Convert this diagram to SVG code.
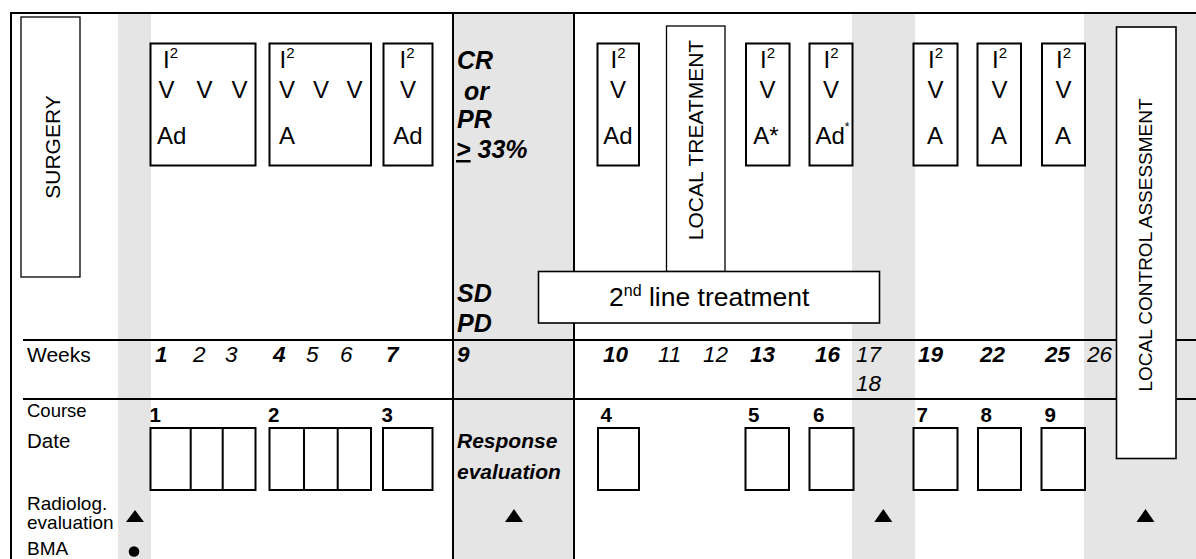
<svg xmlns="http://www.w3.org/2000/svg" width="1196" height="559" viewBox="0 0 1196 559">
<style>
text{font-family:"Liberation Sans",Arial,Helvetica,sans-serif;fill:#000}
.bx{fill:#fff;stroke:#000;stroke-width:2}
.thin{fill:#fff;stroke:#000;stroke-width:1.3}
.med{fill:#fff;stroke:#000;stroke-width:1.6}
.rule{stroke:#000;stroke-width:2;fill:none}
.shade{fill:#e5e5e5}
.c{font-size:24px}
.sup{font-size:15px}
.bi{font-weight:bold;font-style:italic}
.wk{font-size:22.5px;font-style:italic}
.b{font-weight:bold}
.lbl{font-size:19px}
.cn{font-size:20.5px;font-weight:bold}
.mid{text-anchor:middle}
.mark{fill:#000}
</style>
<g id="shading">
<rect class="shade" x="118" y="14" width="33" height="545"/>
<rect class="shade" x="453" y="14" width="121" height="545"/>
<rect class="shade" x="852" y="14" width="63" height="545"/>
<rect class="shade" x="1084" y="14" width="112" height="545"/>
</g>
<g id="connectors">
<path class="rule" d="M10,13H1196 M11,12V559 M453,13V559 M574,13V559 M23,340H1196 M23,399H1196"/>
</g>
<g id="surgery">
<rect class="thin" x="21" y="17" width="59" height="260"/>
<text class="mid" font-size="21" transform="translate(60,147) rotate(-90)">SURGERY</text>
</g>
<g id="course1">
<rect class="bx" x="150.5" y="43.5" width="105" height="122"/>
<text class="c" x="163" y="68">I<tspan class="sup" dy="-10">2</tspan></text>
<text class="c" x="158.5" y="98">V</text><text class="c" x="196.5" y="98">V</text><text class="c" x="231.5" y="98">V</text>
<text class="c" x="157" y="144">Ad</text>
</g>
<g id="course2">
<rect class="bx" x="269.5" y="43.5" width="101.5" height="122"/>
<text class="c" x="279.5" y="68">I<tspan class="sup" dy="-10">2</tspan></text>
<text class="c" x="279" y="98">V</text><text class="c" x="313" y="98">V</text><text class="c" x="346.5" y="98">V</text>
<text class="c" x="279" y="144">A</text>
</g>
<g id="course3">
<rect class="bx" x="383.5" y="43.5" width="49" height="122"/>
<text class="c mid" x="407" y="68">I<tspan class="sup" dy="-10">2</tspan></text>
<text class="c mid" x="408" y="98">V</text>
<text class="c mid" x="408" y="144">Ad</text>
</g>
<g id="response-criteria">
<text class="bi" font-size="25" x="457" y="69">CR</text>
<text class="bi" font-size="25" x="464" y="100">or</text>
<text class="bi" font-size="25" x="457" y="128">PR</text>
<text class="bi" font-size="25" x="456" y="158"><tspan text-decoration="underline">&gt;</tspan> 33%</text>
<text class="bi" font-size="25" x="457" y="302">SD</text>
<text class="bi" font-size="25" x="457" y="332">PD</text>
</g>
<g id="course4">
<rect class="bx" x="597.5" y="43.5" width="41.5" height="122"/>
<text class="c mid" x="618" y="68">I<tspan class="sup" dy="-10">2</tspan></text>
<text class="c mid" x="618" y="98">V</text>
<text class="c mid" x="618" y="144">Ad</text>
</g>
<g id="local-treatment">
<rect class="thin" x="666.5" y="26" width="58.5" height="245.5"/>
<text class="mid" font-size="21" transform="translate(703.3,140) rotate(-90)">LOCAL TREATMENT</text>
</g>
<g id="course5">
<rect class="bx" x="746" y="43.5" width="43.5" height="122"/>
<text class="c mid" x="767.5" y="68">I<tspan class="sup" dy="-10">2</tspan></text>
<text class="c mid" x="767.5" y="98">V</text>
<text class="c mid" x="766" y="144">A*</text>
</g>
<g id="course6">
<rect class="bx" x="809.5" y="43.5" width="43" height="122"/>
<text class="c mid" x="831" y="68">I<tspan class="sup" dy="-10">2</tspan></text>
<text class="c mid" x="831" y="98">V</text>
<text class="c" x="815.5" y="144">Ad<tspan font-size="12" dy="-13">*</tspan></text>
</g>
<g id="course7">
<rect class="bx" x="913.5" y="43.5" width="44" height="122"/>
<text class="c mid" x="935.5" y="68">I<tspan class="sup" dy="-10">2</tspan></text>
<text class="c mid" x="935.5" y="98">V</text>
<text class="c mid" x="935" y="144">A</text>
</g>
<g id="course8">
<rect class="bx" x="977.5" y="43.5" width="43.5" height="122"/>
<text class="c mid" x="999.5" y="68">I<tspan class="sup" dy="-10">2</tspan></text>
<text class="c mid" x="999.5" y="98">V</text>
<text class="c mid" x="999" y="144">A</text>
</g>
<g id="course9">
<rect class="bx" x="1042" y="43.5" width="43" height="122"/>
<text class="c mid" x="1063.5" y="68">I<tspan class="sup" dy="-10">2</tspan></text>
<text class="c mid" x="1063.5" y="98">V</text>
<text class="c mid" x="1063" y="144">A</text>
</g>
<g id="second-line">
<rect class="med" x="538.5" y="271.5" width="341" height="51.5"/>
<text font-size="26.5" x="609" y="306">2<tspan font-size="16" dy="-10">nd</tspan><tspan dy="10"> line treatment</tspan></text>
</g>
<g id="local-control-assessment">
<rect class="med" x="1116.5" y="27" width="59.5" height="431.5"/>
<text class="mid" font-size="19" transform="translate(1152,245) rotate(-90)">LOCAL CONTROL ASSESSMENT</text>
</g>
<g id="weeks-row">
<text font-size="21" x="27" y="362">Weeks</text>
<text class="wk b" x="155" y="362">1</text>
<text class="wk" x="193" y="362">2</text>
<text class="wk" x="225" y="362">3</text>
<text class="wk b" x="273" y="362">4</text>
<text class="wk" x="306" y="362">5</text>
<text class="wk" x="340" y="362">6</text>
<text class="wk b" x="386" y="362">7</text>
<text class="wk b" x="457" y="362">9</text>
<text class="wk b" x="603" y="362">10</text>
<text class="wk" x="658" y="362">11</text>
<text class="wk" x="703" y="362">12</text>
<text class="wk b" x="750" y="362">13</text>
<text class="wk b" x="815" y="362">16</text>
<text class="wk" x="856" y="362">17</text>
<text class="wk" x="856" y="391">18</text>
<text class="wk b" x="918" y="362">19</text>
<text class="wk b" x="980" y="362">22</text>
<text class="wk b" x="1045" y="362">25</text>
<text class="wk" x="1087" y="362">26</text>
</g>
<g id="course-row">
<text font-size="18.5" x="27" y="417">Course</text>
<text font-size="20.5" x="27" y="448">Date</text>
<text class="cn" x="149.5" y="422">1</text>
<text class="cn" x="268" y="422">2</text>
<text class="cn" x="381.5" y="422">3</text>
<text class="cn" x="600.5" y="422">4</text>
<text class="cn" x="748" y="422">5</text>
<text class="cn" x="813" y="422">6</text>
<text class="cn" x="916.5" y="422">7</text>
<text class="cn" x="980.5" y="422">8</text>
<text class="cn" x="1044.5" y="422">9</text>
</g>
<g id="date-boxes">
<rect class="bx" x="150.5" y="428" width="105" height="62"/>
<rect class="bx" x="269.5" y="428" width="101.5" height="62"/>
<rect class="bx" x="383" y="428" width="49.5" height="62"/>
<rect class="bx" x="598" y="428" width="41" height="62"/>
<rect class="bx" x="745.5" y="428" width="43.5" height="62"/>
<rect class="bx" x="809.5" y="428" width="44" height="62"/>
<rect class="bx" x="913.5" y="428" width="44" height="62"/>
<rect class="bx" x="978" y="428" width="43" height="62"/>
<rect class="bx" x="1041.5" y="428" width="43.5" height="62"/>
<path class="rule" d="M190.7,428V490 M222.7,428V490 M304,428V490 M337.7,428V490"/>
</g>
<g id="response-evaluation">
<text class="bi" font-size="21" x="457" y="448">Response</text>
<text class="bi" font-size="21" x="457" y="479">evaluation</text>
</g>
<g id="evaluation-rows">
<text class="lbl" x="27" y="510">Radiolog.</text>
<text class="lbl" x="27" y="529">evaluation</text>
<text class="lbl" x="27" y="555">BMA</text>
<polygon class="mark" points="135,510 126,522 144,522"/>
<polygon class="mark" points="514,509 505,522 523,522"/>
<polygon class="mark" points="883.3,509 874.3,522 892.3,522"/>
<polygon class="mark" points="1145.5,509 1136.5,522 1154.5,522"/>
<circle class="mark" cx="134" cy="551.5" r="5.3"/>
</g>
</svg>
